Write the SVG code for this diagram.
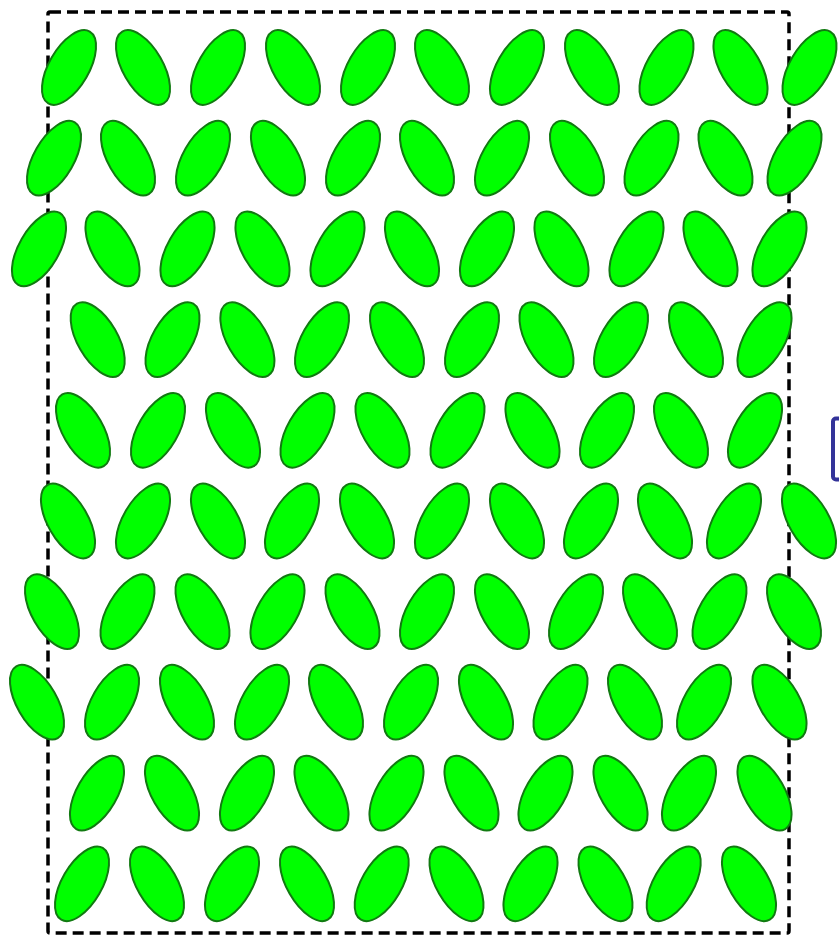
<svg xmlns="http://www.w3.org/2000/svg" width="839" height="937" viewBox="0 0 839 937">
<style>
.frame{fill:none;stroke:#000;stroke-width:3.5;stroke-dasharray:11 6}
.blue{fill:#fff;stroke:#333399;stroke-width:4}
.e{fill:#00ff00;stroke:#117a11;stroke-width:2}
</style>
<defs>
<ellipse id="r" class="e" cx="0" cy="0" rx="20" ry="41.5" transform="rotate(30)"/>
<ellipse id="l" class="e" cx="0" cy="0" rx="20" ry="41.5" transform="rotate(-30)"/>
</defs>
<rect id="frame" class="frame" x="48" y="12" width="741" height="921" rx="2"/>
<g id="box"><rect class="blue" x="833" y="418.5" width="60" height="61" rx="3"/></g>
<g id="connectors"></g>
<g id="row1">
<g id="n1_1"><use href="#r" x="69" y="67.5"/></g>
<g id="n1_2"><use href="#l" x="143" y="67.5"/></g>
<g id="n1_3"><use href="#r" x="218" y="67.5"/></g>
<g id="n1_4"><use href="#l" x="293" y="67.5"/></g>
<g id="n1_5"><use href="#r" x="368" y="67.5"/></g>
<g id="n1_6"><use href="#l" x="442" y="67.5"/></g>
<g id="n1_7"><use href="#r" x="517" y="67.5"/></g>
<g id="n1_8"><use href="#l" x="592" y="67.5"/></g>
<g id="n1_9"><use href="#r" x="666.5" y="67.5"/></g>
<g id="n1_10"><use href="#l" x="740.5" y="67.5"/></g>
<g id="n1_11"><use href="#r" x="809.5" y="67.5"/></g>
</g>
<g id="row2">
<g id="n2_1"><use href="#r" x="54" y="158.2"/></g>
<g id="n2_2"><use href="#l" x="128" y="158.2"/></g>
<g id="n2_3"><use href="#r" x="203" y="158.2"/></g>
<g id="n2_4"><use href="#l" x="278" y="158.2"/></g>
<g id="n2_5"><use href="#r" x="353" y="158.2"/></g>
<g id="n2_6"><use href="#l" x="427" y="158.2"/></g>
<g id="n2_7"><use href="#r" x="502" y="158.2"/></g>
<g id="n2_8"><use href="#l" x="577" y="158.2"/></g>
<g id="n2_9"><use href="#r" x="651.5" y="158.2"/></g>
<g id="n2_10"><use href="#l" x="725.5" y="158.2"/></g>
<g id="n2_11"><use href="#r" x="794.5" y="158.2"/></g>
</g>
<g id="row3">
<g id="n3_1"><use href="#r" x="39" y="248.9"/></g>
<g id="n3_2"><use href="#l" x="112.5" y="248.9"/></g>
<g id="n3_3"><use href="#r" x="187.5" y="248.9"/></g>
<g id="n3_4"><use href="#l" x="262.5" y="248.9"/></g>
<g id="n3_5"><use href="#r" x="337.5" y="248.9"/></g>
<g id="n3_6"><use href="#l" x="412" y="248.9"/></g>
<g id="n3_7"><use href="#r" x="487" y="248.9"/></g>
<g id="n3_8"><use href="#l" x="561.5" y="248.9"/></g>
<g id="n3_9"><use href="#r" x="636.5" y="248.9"/></g>
<g id="n3_10"><use href="#l" x="710.5" y="248.9"/></g>
<g id="n3_11"><use href="#r" x="779.5" y="248.9"/></g>
</g>
<g id="row4">
<g id="n4_1"><use href="#l" x="97.7" y="339.6"/></g>
<g id="n4_2"><use href="#r" x="172.5" y="339.6"/></g>
<g id="n4_3"><use href="#l" x="247.4" y="339.6"/></g>
<g id="n4_4"><use href="#r" x="322" y="339.6"/></g>
<g id="n4_5"><use href="#l" x="397" y="339.6"/></g>
<g id="n4_6"><use href="#r" x="472" y="339.6"/></g>
<g id="n4_7"><use href="#l" x="546.5" y="339.6"/></g>
<g id="n4_8"><use href="#r" x="621" y="339.6"/></g>
<g id="n4_9"><use href="#l" x="696" y="339.6"/></g>
<g id="n4_10"><use href="#r" x="764.5" y="339.6"/></g>
</g>
<g id="row5">
<g id="n5_1"><use href="#l" x="83" y="430.3"/></g>
<g id="n5_2"><use href="#r" x="158" y="430.3"/></g>
<g id="n5_3"><use href="#l" x="233" y="430.3"/></g>
<g id="n5_4"><use href="#r" x="307.5" y="430.3"/></g>
<g id="n5_5"><use href="#l" x="382.5" y="430.3"/></g>
<g id="n5_6"><use href="#r" x="457.5" y="430.3"/></g>
<g id="n5_7"><use href="#l" x="532.5" y="430.3"/></g>
<g id="n5_8"><use href="#r" x="607" y="430.3"/></g>
<g id="n5_9"><use href="#l" x="681" y="430.3"/></g>
<g id="n5_10"><use href="#r" x="755" y="430.3"/></g>
</g>
<g id="row6">
<g id="n6_1"><use href="#l" x="68" y="521"/></g>
<g id="n6_2"><use href="#r" x="143" y="521"/></g>
<g id="n6_3"><use href="#l" x="218" y="521"/></g>
<g id="n6_4"><use href="#r" x="292" y="521"/></g>
<g id="n6_5"><use href="#l" x="367" y="521"/></g>
<g id="n6_6"><use href="#r" x="442" y="521"/></g>
<g id="n6_7"><use href="#l" x="517" y="521"/></g>
<g id="n6_8"><use href="#r" x="591" y="521"/></g>
<g id="n6_9"><use href="#l" x="665" y="521"/></g>
<g id="n6_10"><use href="#r" x="734" y="521"/></g>
<g id="n6_11"><use href="#l" x="809" y="521"/></g>
</g>
<g id="row7">
<g id="n7_1"><use href="#l" x="52" y="611.7"/></g>
<g id="n7_2"><use href="#r" x="127.5" y="611.7"/></g>
<g id="n7_3"><use href="#l" x="202.5" y="611.7"/></g>
<g id="n7_4"><use href="#r" x="277.5" y="611.7"/></g>
<g id="n7_5"><use href="#l" x="352.5" y="611.7"/></g>
<g id="n7_6"><use href="#r" x="427" y="611.7"/></g>
<g id="n7_7"><use href="#l" x="502" y="611.7"/></g>
<g id="n7_8"><use href="#r" x="576" y="611.7"/></g>
<g id="n7_9"><use href="#l" x="650" y="611.7"/></g>
<g id="n7_10"><use href="#r" x="719.5" y="611.7"/></g>
<g id="n7_11"><use href="#l" x="794" y="611.7"/></g>
</g>
<g id="row8">
<g id="n8_1"><use href="#l" x="37" y="702.2"/></g>
<g id="n8_2"><use href="#r" x="112" y="702.2"/></g>
<g id="n8_3"><use href="#l" x="187" y="702.2"/></g>
<g id="n8_4"><use href="#r" x="262" y="702.2"/></g>
<g id="n8_5"><use href="#l" x="336" y="702.2"/></g>
<g id="n8_6"><use href="#r" x="411" y="702.2"/></g>
<g id="n8_7"><use href="#l" x="486" y="702.2"/></g>
<g id="n8_8"><use href="#r" x="560.5" y="702.2"/></g>
<g id="n8_9"><use href="#l" x="635" y="702.2"/></g>
<g id="n8_10"><use href="#r" x="704" y="702.2"/></g>
<g id="n8_11"><use href="#l" x="779.5" y="702.2"/></g>
</g>
<g id="row9">
<g id="n9_1"><use href="#r" x="97" y="793.1"/></g>
<g id="n9_2"><use href="#l" x="172" y="793.1"/></g>
<g id="n9_3"><use href="#r" x="247" y="793.1"/></g>
<g id="n9_4"><use href="#l" x="321.5" y="793.1"/></g>
<g id="n9_5"><use href="#r" x="396.5" y="793.1"/></g>
<g id="n9_6"><use href="#l" x="471.5" y="793.1"/></g>
<g id="n9_7"><use href="#r" x="545.5" y="793.1"/></g>
<g id="n9_8"><use href="#l" x="620.5" y="793.1"/></g>
<g id="n9_9"><use href="#r" x="689" y="793.1"/></g>
<g id="n9_10"><use href="#l" x="764.5" y="793.1"/></g>
</g>
<g id="row10">
<g id="n10_1"><use href="#r" x="82" y="883.8"/></g>
<g id="n10_2"><use href="#l" x="157" y="883.8"/></g>
<g id="n10_3"><use href="#r" x="232" y="883.8"/></g>
<g id="n10_4"><use href="#l" x="307" y="883.8"/></g>
<g id="n10_5"><use href="#r" x="381.7" y="883.8"/></g>
<g id="n10_6"><use href="#l" x="456.5" y="883.8"/></g>
<g id="n10_7"><use href="#r" x="530.5" y="883.8"/></g>
<g id="n10_8"><use href="#l" x="605.5" y="883.8"/></g>
<g id="n10_9"><use href="#r" x="673.7" y="883.8"/></g>
<g id="n10_10"><use href="#l" x="749" y="883.8"/></g>
</g>
</svg>
